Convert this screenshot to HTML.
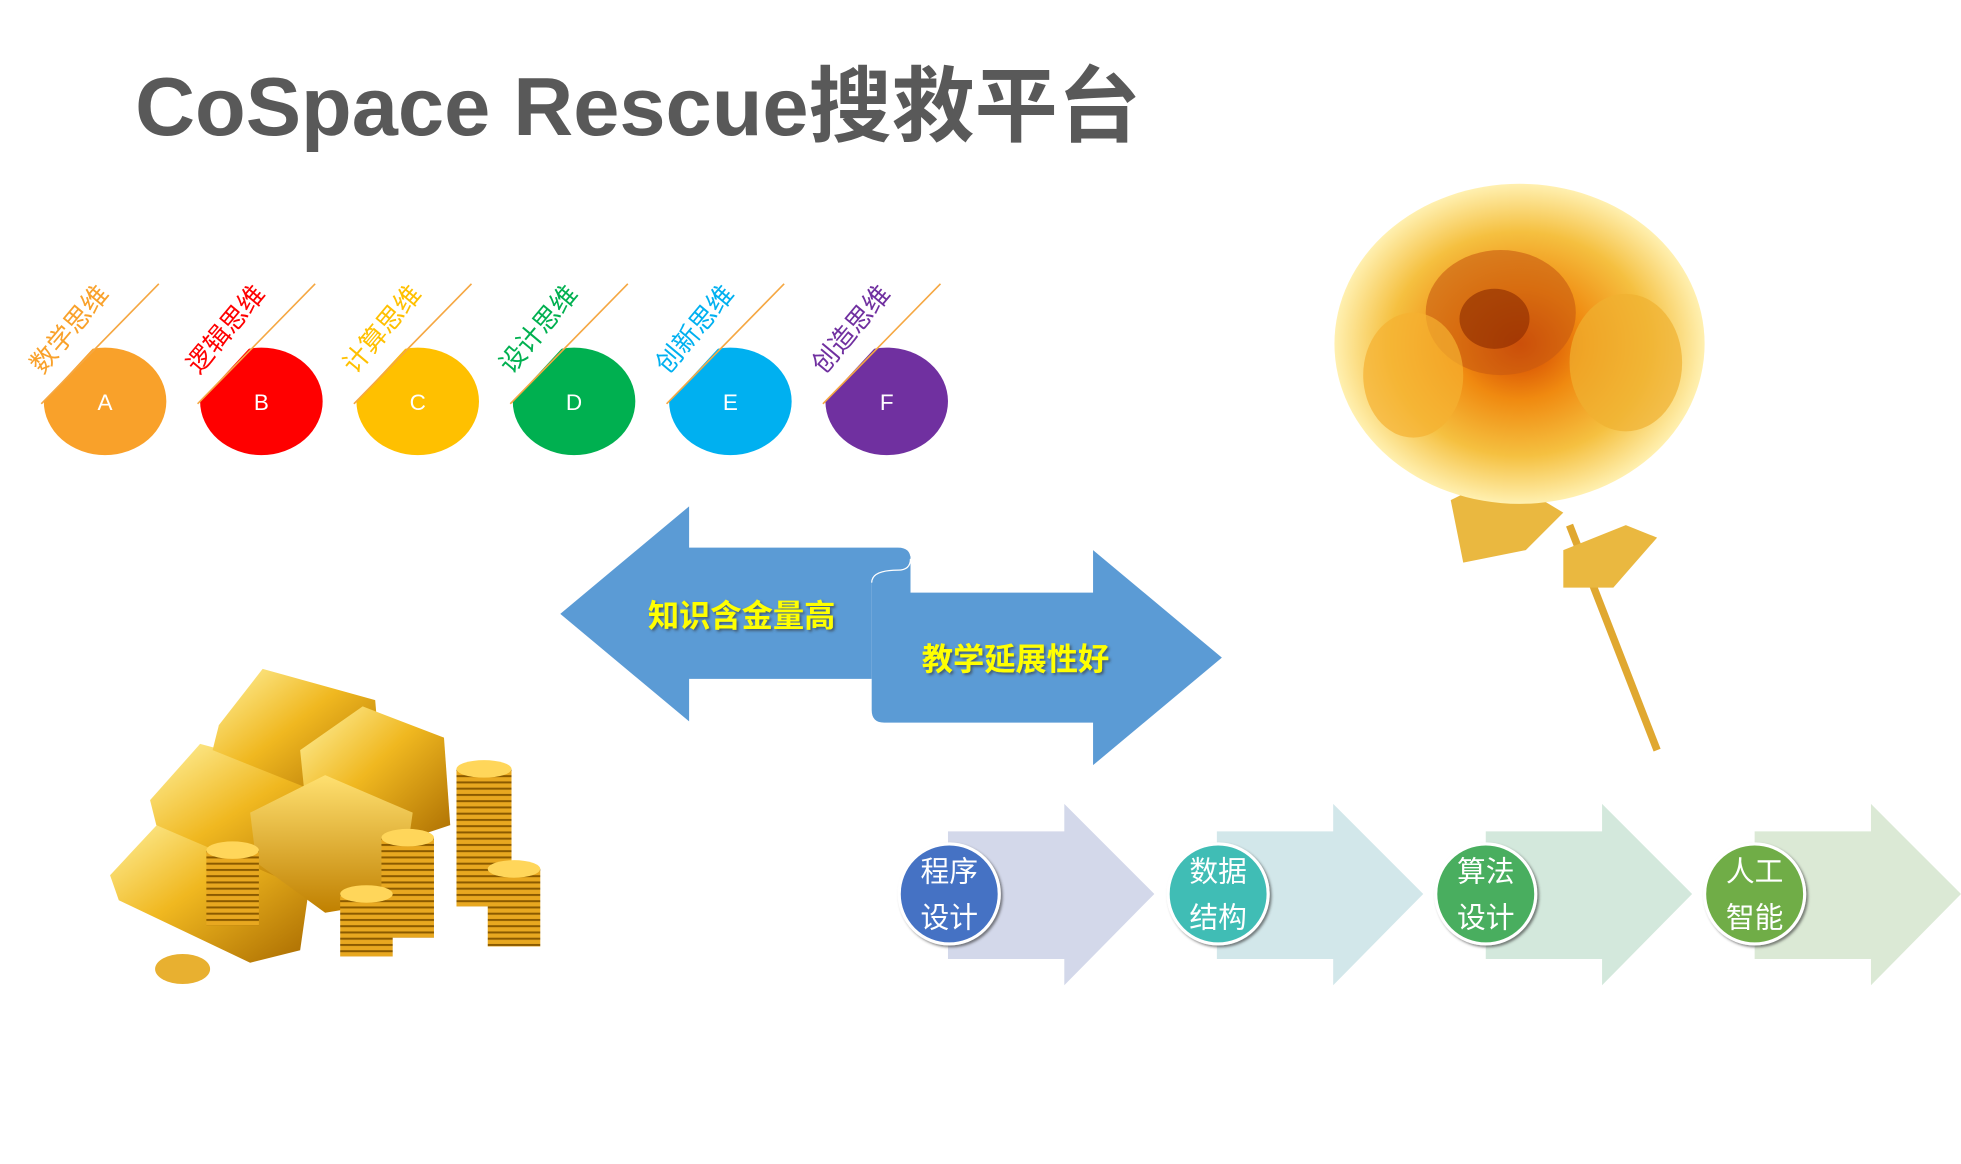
<!DOCTYPE html>
<html><head><meta charset="utf-8"><style>
html,body{margin:0;padding:0;background:#fff;}
svg{display:block;}
text{font-family:"Liberation Sans","Noto Sans CJK SC",sans-serif;}
</style></head><body>
<svg width="1961" height="1164" viewBox="0 0 1568 931" preserveAspectRatio="none" xmlns="http://www.w3.org/2000/svg">
<defs>
<linearGradient id="gold" x1="0" y1="0" x2="1" y2="1"><stop offset="0" stop-color="#fff2a0"/><stop offset=".45" stop-color="#f0b820"/><stop offset="1" stop-color="#a86a00"/></linearGradient>
<linearGradient id="gold2" x1="0" y1="0" x2="0" y2="1"><stop offset="0" stop-color="#ffe070"/><stop offset="1" stop-color="#c08000"/></linearGradient>
<pattern id="coin" width="10" height="5" patternUnits="userSpaceOnUse"><rect width="10" height="5" fill="#e8a820"/><rect width="10" height="1.6" fill="#8a5a00"/></pattern>
<radialGradient id="rose" cx=".5" cy=".5" r=".5"><stop offset="0" stop-color="#d04000"/><stop offset=".35" stop-color="#f08a10"/><stop offset=".7" stop-color="#f5c040"/><stop offset="1" stop-color="#fff0b0"/></radialGradient>
<filter id="sh"><feDropShadow dx="1.5" dy="1.5" stdDeviation="1" flood-color="#333" flood-opacity=".6"/></filter>
</defs>

<text x="108" y="108" font-size="66" font-weight="bold" fill="#595959" textLength="804" lengthAdjust="spacingAndGlyphs">CoSpace Rescue搜救平台</text>

<g>
<clipPath id="cA"><polygon points="-65,429 174,171 284,171 284,500 -65,500"/></clipPath>
<ellipse cx="84" cy="321" rx="49" ry="43" fill="#f9a12a" clip-path="url(#cA)"/>
<line x1="33" y1="323" x2="127" y2="227" stroke="#f5a742" stroke-width="1.3"/>
<text x="84" y="328" font-size="18" fill="#fff" text-anchor="middle">A</text>
<text transform="translate(34,300) rotate(-50)" font-size="21" fill="#f9a12a">数学思维</text>
</g>
<g>
<clipPath id="cB"><polygon points="60,429 299,171 409,171 409,500 60,500"/></clipPath>
<ellipse cx="209" cy="321" rx="49" ry="43" fill="#ff0000" clip-path="url(#cB)"/>
<line x1="158" y1="323" x2="252" y2="227" stroke="#f5a742" stroke-width="1.3"/>
<text x="209" y="328" font-size="18" fill="#fff" text-anchor="middle">B</text>
<text transform="translate(159,300) rotate(-50)" font-size="21" fill="#ff0000">逻辑思维</text>
</g>
<g>
<clipPath id="cC"><polygon points="185,429 424,171 534,171 534,500 185,500"/></clipPath>
<ellipse cx="334" cy="321" rx="49" ry="43" fill="#ffc000" clip-path="url(#cC)"/>
<line x1="283" y1="323" x2="377" y2="227" stroke="#f5a742" stroke-width="1.3"/>
<text x="334" y="328" font-size="18" fill="#fff" text-anchor="middle">C</text>
<text transform="translate(284,300) rotate(-50)" font-size="21" fill="#ffc000">计算思维</text>
</g>
<g>
<clipPath id="cD"><polygon points="310,429 549,171 659,171 659,500 310,500"/></clipPath>
<ellipse cx="459" cy="321" rx="49" ry="43" fill="#00b050" clip-path="url(#cD)"/>
<line x1="408" y1="323" x2="502" y2="227" stroke="#f5a742" stroke-width="1.3"/>
<text x="459" y="328" font-size="18" fill="#fff" text-anchor="middle">D</text>
<text transform="translate(409,300) rotate(-50)" font-size="21" fill="#00b050">设计思维</text>
</g>
<g>
<clipPath id="cE"><polygon points="435,429 674,171 784,171 784,500 435,500"/></clipPath>
<ellipse cx="584" cy="321" rx="49" ry="43" fill="#00b0f0" clip-path="url(#cE)"/>
<line x1="533" y1="323" x2="627" y2="227" stroke="#f5a742" stroke-width="1.3"/>
<text x="584" y="328" font-size="18" fill="#fff" text-anchor="middle">E</text>
<text transform="translate(534,300) rotate(-50)" font-size="21" fill="#00b0f0">创新思维</text>
</g>
<g>
<clipPath id="cF"><polygon points="560,429 799,171 909,171 909,500 560,500"/></clipPath>
<ellipse cx="709" cy="321" rx="49" ry="43" fill="#7030a0" clip-path="url(#cF)"/>
<line x1="658" y1="323" x2="752" y2="227" stroke="#f5a742" stroke-width="1.3"/>
<text x="709" y="328" font-size="18" fill="#fff" text-anchor="middle">F</text>
<text transform="translate(659,300) rotate(-50)" font-size="21" fill="#7030a0">创造思维</text>
</g>

<!-- big arrows -->
<rect x="700" y="445" width="28" height="32" fill="#4a7eb0"/>
<path d="M448,491 L551,405 L551,438 L718,438 Q728,438 728,447 Q728,456 718,456 Q697,456 697,465 L697,543 L551,543 L551,577 Z" fill="#5b9bd5"/>
<path d="M697,466 Q697,456 718,456 Q728,456 728,447 L728,474 L874,474 L874,440 L977,526 L874,612 L874,578 L707,578 Q697,578 697,568 Z" fill="#5b9bd5"/>
<path d="M697,466 Q697,456 718,456 Q728,456 728,447" fill="none" stroke="#fff" stroke-width="1"/>
<text x="593" y="501" font-size="25" font-weight="bold" fill="#ffff00" text-anchor="middle" filter="url(#sh)">知识含金量高</text>
<text x="812" y="536" font-size="25" font-weight="bold" fill="#ffff00" text-anchor="middle" filter="url(#sh)">教学延展性好</text>

<!-- chevrons -->
<polygon points="758,665 851,665 851,643 923,715 851,788 851,767 758,767" fill="#d3d8ea"/>
<polygon points="973,665 1066,665 1066,643 1138,715 1066,788 1066,767 973,767" fill="#d2e7ea"/>
<polygon points="1188,665 1281,665 1281,643 1353,715 1281,788 1281,767 1188,767" fill="#d3e8dc"/>
<polygon points="1403,665 1496,665 1496,643 1568,715 1496,788 1496,767 1403,767" fill="#dbe9d5"/>
<g font-size="23" fill="#fff" text-anchor="middle" filter="url(#sh)">
<circle cx="759" cy="715" r="40" fill="#4472c4" stroke="#fff" stroke-width="2.5"/>
<text x="759" y="705">程序</text><text x="759" y="742">设计</text>
<circle cx="974" cy="715" r="40" fill="#40bdb5" stroke="#fff" stroke-width="2.5"/>
<text x="974" y="705">数据</text><text x="974" y="742">结构</text>
<circle cx="1188" cy="715" r="40" fill="#48ae5e" stroke="#fff" stroke-width="2.5"/>
<text x="1188" y="705">算法</text><text x="1188" y="742">设计</text>
<circle cx="1403" cy="715" r="40" fill="#70ad47" stroke="#fff" stroke-width="2.5"/>
<text x="1403" y="705">人工</text><text x="1403" y="742">智能</text>
</g>

<!-- gold bars -->
<g>
<polygon points="88,700 130,655 250,690 240,760 200,770 95,720" fill="url(#gold)"/>
<polygon points="120,640 160,595 290,630 280,700 230,705 125,660" fill="url(#gold)"/>
<polygon points="175,580 210,535 300,560 305,620 270,640 170,600" fill="url(#gold)"/>
<polygon points="240,600 290,565 355,590 360,660 300,680 245,650" fill="url(#gold)"/>
<polygon points="200,650 260,620 330,650 320,720 260,730 205,690" fill="url(#gold2)"/>
<rect x="165" y="680" width="42" height="60" fill="url(#coin)"/><ellipse cx="186" cy="680" rx="21" ry="7" fill="#ffd65a"/>
<rect x="305" y="670" width="42" height="80" fill="url(#coin)"/><ellipse cx="326" cy="670" rx="21" ry="7" fill="#ffd65a"/>
<rect x="365" y="615" width="44" height="110" fill="url(#coin)"/><ellipse cx="387" cy="615" rx="22" ry="7" fill="#ffd65a"/>
<rect x="390" y="695" width="42" height="62" fill="url(#coin)"/><ellipse cx="411" cy="695" rx="21" ry="7" fill="#ffd65a"/>
<rect x="272" y="715" width="42" height="50" fill="url(#coin)"/><ellipse cx="293" cy="715" rx="21" ry="7" fill="#ffd65a"/>
<ellipse cx="146" cy="775" rx="22" ry="12" fill="#e8b030"/>
</g>

<!-- rose -->
<g>
<line x1="1255" y1="420" x2="1325" y2="600" stroke="#e0a830" stroke-width="6"/>
<polygon points="1160,400 1200,380 1250,410 1220,440 1170,450" fill="#eab840"/>
<polygon points="1250,440 1300,420 1325,430 1290,470 1250,470" fill="#eab840"/>
<ellipse cx="1215" cy="275" rx="148" ry="128" fill="url(#rose)"/>
<ellipse cx="1200" cy="250" rx="60" ry="50" fill="#c85a10" opacity=".6"/>
<ellipse cx="1195" cy="255" rx="28" ry="24" fill="#8a2a00" opacity=".6"/>
<ellipse cx="1130" cy="300" rx="40" ry="50" fill="#f5b030" opacity=".7"/>
<ellipse cx="1300" cy="290" rx="45" ry="55" fill="#f0b030" opacity=".7"/>
</g>
</svg>
</body></html>
